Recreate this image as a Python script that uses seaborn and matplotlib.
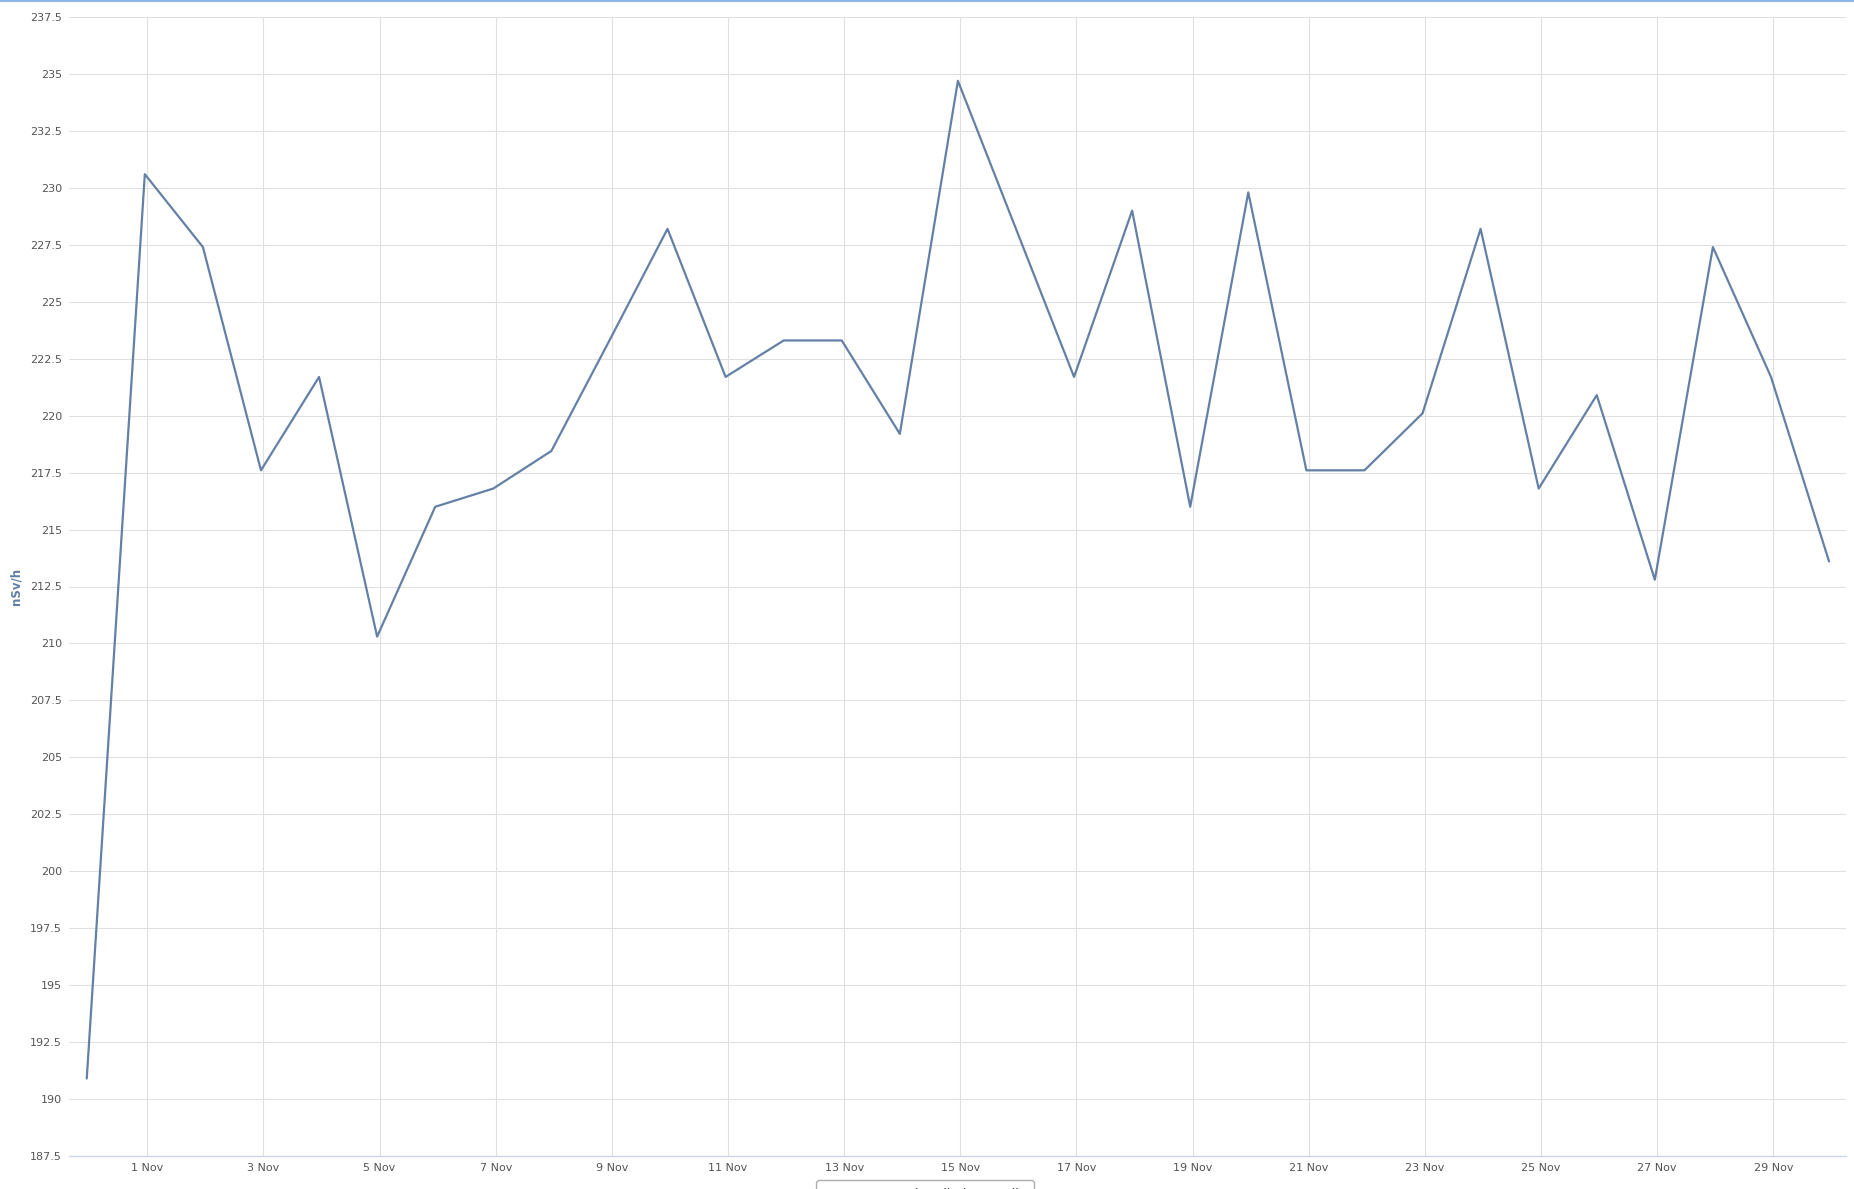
import seaborn as sns
import pandas as pd
import numpy as np
import matplotlib.pyplot as plt
import matplotlib.dates as mdates
from matplotlib.ticker import FuncFormatter

# daily values, 31 Oct .. 30 Nov (stamped at local midnight, UTC+1)
days = pd.date_range('2023-10-30 23:00', periods=31, freq='D')
values = [190.9, 230.6, 227.4, 217.6, 221.7, 210.3, 216.0, 216.8, 218.45, 223.3,
          228.2, 221.7, 223.3, 223.3, 219.2, 234.7, 228.2, 221.7, 229.0, 216.0,
          229.8, 217.6, 217.6, 220.1, 228.2, 216.8, 220.9, 212.8, 227.4, 221.7,
          213.6]
series_name = 'CAFC Total Radiation - Daily'
y_ticks = np.arange(187.5, 237.6, 2.5)
x_tick_days = pd.date_range('2023-11-01', '2023-11-29', freq='2D')

df = pd.DataFrame({'Date': days, 'Value': values, 'Series': series_name})

sns.set_style('white')
plt.rcParams['font.family'] = ['DejaVu Sans']

W, H = 1854, 1189
fig = plt.figure(figsize=(W / 100, H / 100), dpi=100)
ax = fig.add_axes([69 / W, 1 - 1156 / H, (1846 - 69) / W, (1156 - 17) / H])

line_color = '#6480a6'
sns.lineplot(data=df, x='Date', y='Value', hue='Series', palette=[line_color],
             linewidth=1.6, ax=ax, legend=False)

ax.set_ylim(187.5, 237.5)
ax.set_yticks(y_ticks)
ax.yaxis.set_major_formatter(FuncFormatter(lambda v, p: f'{v:g}'))
ax.set_xlim(pd.Timestamp('2023-10-30 15:40'), pd.Timestamp('2023-11-30 06:00'))
ax.set_xticks(x_tick_days)
ax.xaxis.set_major_formatter(FuncFormatter(
    lambda v, p: f'{mdates.num2date(v).day} Nov'))

ax.grid(True, color='#e0e0e0', linewidth=0.8)
ax.set_axisbelow(True)
for s in ['top', 'right', 'left']:
    ax.spines[s].set_visible(False)
ax.spines['bottom'].set_color('#ccd6eb')
ax.spines['bottom'].set_linewidth(1.0)

ax.tick_params(axis='y', length=0, pad=5, labelsize=8, labelcolor='#555555')
ax.tick_params(axis='x', length=5, width=0.8, color='#e0e0e0', pad=0,
               labelsize=8, labelcolor='#555555')

ax.set_xlabel('')
ax.set_ylabel('nSv/h', fontsize=8.5, fontweight='bold', color='#5f7fa5')
ax.yaxis.set_label_coords(-47 / (1846 - 69), 0.5)

# top highlight line
fig.add_artist(plt.Line2D([0, 1], [1 - 0.8 / H, 1 - 0.8 / H], color='#8fb4e6',
                          linewidth=1.5, transform=fig.transFigure))

handles = [plt.Line2D([], [], color=line_color, linewidth=1.6)]
fig.legend(handles, [series_name], loc='upper center',
           bbox_to_anchor=(925 / W, 1 - 1174 / H), frameon=True,
           fontsize=9, labelcolor='#333333', edgecolor='#999999',
           fancybox=True, borderpad=0.6, handlelength=1.5)

plt.savefig('out.png', dpi=100)
